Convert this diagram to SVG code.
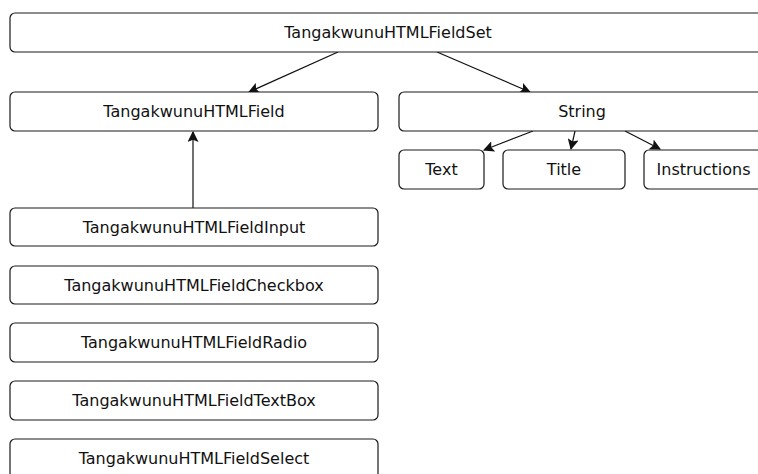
<svg xmlns="http://www.w3.org/2000/svg" width="758" height="474" viewBox="0 0 758 474">
  <style>
    .box { fill: #ffffff; stroke: #1a1a1a; stroke-width: 1.2; }
    .lbl { font-family: "DejaVu Sans", sans-serif; font-size: 16px; fill: #111111; text-anchor: middle; dominant-baseline: central; }
    .edge { fill: none; stroke: #111111; stroke-width: 1.2; marker-end: url(#arrow); }
  </style>
  <defs>
    <marker id="arrow" viewBox="0 0 10 10" refX="9" refY="5" markerWidth="11" markerHeight="11" markerUnits="userSpaceOnUse" orient="auto">
      <path d="M0,0 L10,5 L0,10 L2,5 Z" fill="#111111"/>
    </marker>
  </defs>
  <rect width="758" height="474" fill="#ffffff"/>

  <g id="connectors">
    <line class="edge" x1="338" y1="52" x2="249" y2="92"/>
    <line class="edge" x1="437" y1="52" x2="530" y2="92"/>
    <line class="edge" x1="193" y1="208" x2="193" y2="132"/>
    <line class="edge" x1="533" y1="131" x2="484" y2="150"/>
    <line class="edge" x1="575" y1="131" x2="571" y2="149"/>
    <line class="edge" x1="625" y1="131" x2="660" y2="149"/>
  </g>

  <g id="fieldset">
    <rect class="box" x="10" y="13" width="756" height="39" rx="5"/>
    <text class="lbl" x="388" y="32.5">TangakwunuHTMLFieldSet</text>
  </g>
  <g id="field">
    <rect class="box" x="10" y="92" width="368" height="39" rx="5"/>
    <text class="lbl" x="194" y="111.5">TangakwunuHTMLField</text>
  </g>
  <g id="string">
    <rect class="box" x="399" y="92" width="366" height="39" rx="5"/>
    <text class="lbl" x="582" y="111.5">String</text>
  </g>
  <g id="text">
    <rect class="box" x="399" y="150" width="85" height="39" rx="5"/>
    <text class="lbl" x="441.5" y="169.5">Text</text>
  </g>
  <g id="title">
    <rect class="box" x="503" y="150" width="122" height="39" rx="5"/>
    <text class="lbl" x="564" y="169.5">Title</text>
  </g>
  <g id="instructions">
    <rect class="box" x="644" y="150" width="120" height="39" rx="5"/>
    <text class="lbl" x="703.5" y="169.5">Instructions</text>
  </g>
  <g id="input">
    <rect class="box" x="10" y="208" width="368" height="38" rx="5"/>
    <text class="lbl" x="194" y="227">TangakwunuHTMLFieldInput</text>
  </g>
  <g id="checkbox">
    <rect class="box" x="10" y="266" width="368" height="38" rx="5"/>
    <text class="lbl" x="194" y="285">TangakwunuHTMLFieldCheckbox</text>
  </g>
  <g id="radio">
    <rect class="box" x="10" y="323" width="368" height="39" rx="5"/>
    <text class="lbl" x="194" y="342.5">TangakwunuHTMLFieldRadio</text>
  </g>
  <g id="textbox">
    <rect class="box" x="10" y="381" width="368" height="39" rx="5"/>
    <text class="lbl" x="194" y="400.5">TangakwunuHTMLFieldTextBox</text>
  </g>
  <g id="select">
    <rect class="box" x="10" y="439" width="368" height="39" rx="5"/>
    <text class="lbl" x="194" y="458">TangakwunuHTMLFieldSelect</text>
  </g>
</svg>
